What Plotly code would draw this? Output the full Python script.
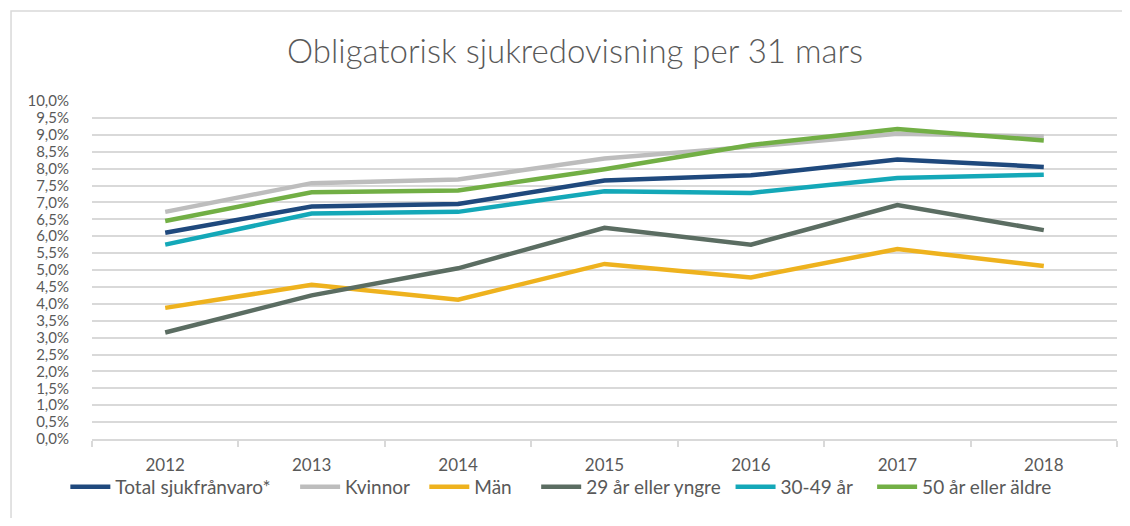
import plotly.graph_objects as go

years = ["2012", "2013", "2014", "2015", "2016", "2017", "2018"]
total = [6.10, 6.88, 6.95, 7.65, 7.80, 8.27, 8.05]
kvinnor = [6.72, 7.57, 7.68, 8.30, 8.65, 9.03, 8.95]
man = [3.88, 4.56, 4.12, 5.18, 4.78, 5.62, 5.12]
yngre = [3.15, 4.25, 5.05, 6.25, 5.75, 6.92, 6.18]
mellan = [5.75, 6.67, 6.72, 7.33, 7.28, 7.72, 7.82]
aldre = [6.45, 7.30, 7.35, 7.98, 8.70, 9.17, 8.83]

names = ["Total sjukfrånvaro*", "Kvinnor", "Män", "29 år eller yngre", "30-49 år", "50 år eller äldre"]
colors = ["#1F497D", "#BDBDBD", "#EEB21E", "#5B6D62", "#14A8B8", "#72AF45"]
pads = [4, 2, 4, 1, 3, 0]  # extra legend spacing (non-breaking spaces)
values = [total, kvinnor, man, yngre, mellan, aldre]

tickvals = [i * 0.5 for i in range(21)]
ticktext = [f"{v:.1f}".replace(".", ",") + "%" for v in tickvals]

fig = go.Figure()
for name, vals, col, p in zip(names, values, colors, pads):
    fig.add_trace(go.Scatter(x=years, y=vals, name=name + "\u00a0" * p, mode="lines",
                             line=dict(color=col, width=4.5)))

font = "Lato, 'Open Sans', sans-serif"
fig.update_layout(
    width=1114, height=510,
    margin=dict(l=84, r=5, t=93, b=79),
    paper_bgcolor="white", plot_bgcolor="white",
    title=dict(text="Obligatorisk sjukredovisning per 31 mars", x=0.509, xanchor="center",
               y=0.914, yanchor="middle",
               font=dict(family=font, size=33, color="#595959", weight=300)),
    font=dict(family=font, color="#595959"),
    showlegend=True,
    legend=dict(orientation="h", x=-0.026, xanchor="left", y=-0.142, yanchor="middle",
                font=dict(size=19, color="#595959"), traceorder="normal",
                itemwidth=40, bgcolor="rgba(0,0,0,0)"),
    xaxis=dict(type="category", range=[-0.5, 6.5], showgrid=False, showline=True,
               linecolor="#D9D9D9", linewidth=1.5,
               ticks="outside", tickson="boundaries", ticklen=6, tickcolor="#D9D9D9", tickwidth=1.5,
               tickfont=dict(size=17, color="#595959"), ticklabelstandoff=10, zeroline=False),
    yaxis=dict(range=[0, 10], tickvals=tickvals, ticktext=ticktext, showgrid=True,
               gridcolor="#D9D9D9", gridwidth=1.5, zeroline=False, showline=False,
               tickfont=dict(size=15, color="#595959"), ticklabelstandoff=22),
    shapes=[dict(type="rect", xref="paper", yref="paper", x0=-0.079, x1=1.1, y0=-0.4, y1=1.266,
                 line=dict(color="#D9D9D9", width=1.5), fillcolor="rgba(0,0,0,0)", layer="below")],
)

fig.write_html("out.html")
